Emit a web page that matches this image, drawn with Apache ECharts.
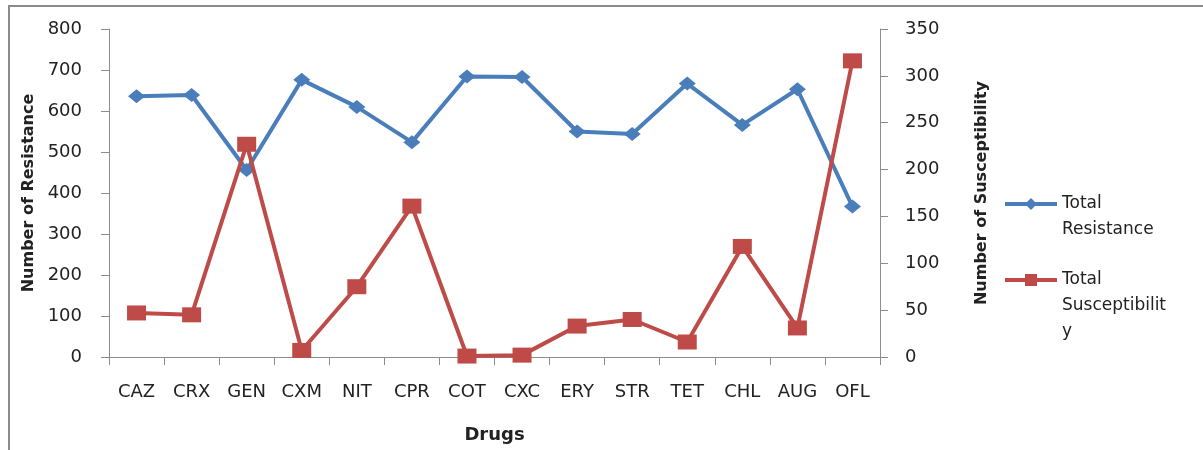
<!DOCTYPE html>
<html>
<head>
<meta charset="utf-8">
<script src="https://cdn.jsdelivr.net/npm/echarts@6/dist/echarts.min.js"></script>
<style>
  html, body { margin: 0; padding: 0; background: #fff; }
  #chart { width: 1203px; height: 450px; }
</style>
</head>
<body>
<div id="chart"></div>
<script>
// Antibiotic panel
const drugs = ['CAZ', 'CRX', 'GEN', 'CXM', 'NIT', 'CPR', 'COT', 'CXC', 'ERY', 'STR', 'TET', 'CHL', 'AUG', 'OFL'];
// Left axis series
const totalResistance = [636, 639, 456, 676, 610, 524, 684, 683, 550, 544, 667, 566, 653, 367];
// Right axis series
const totalSusceptibility = [47, 45, 227, 7, 75, 161, 1, 2, 33, 40, 16, 118, 31, 316];

const FONT = '"DejaVu Sans", "Noto Sans", sans-serif';
const BLUE = '#4A7EBB';
const RED = '#BE4B48';
const AXIS = '#8c8c8c';
const TEXT = '#222';

const chart = echarts.init(document.getElementById('chart'), null, { renderer: 'canvas' });

// Legend entries: leading blank lines keep the first text line level with the icon
const legendBase = {
  orient: 'vertical',
  left: 1003,
  padding: 0,
  itemWidth: 52,
  itemHeight: 15,
  lineStyle: { width: 4 },
  textStyle: { fontFamily: FONT, fontSize: 17, color: TEXT, lineHeight: 26 }
};

chart.setOption({
  animation: false,
  graphic: [{
    type: 'rect',
    shape: { x: 9, y: 6, width: 1400, height: 600 },
    style: { fill: 'none', stroke: '#8a8a8a', lineWidth: 2 },
    silent: true
  }],
  grid: { left: 109, right: 323, top: 29, bottom: 93 },
  legend: [
    Object.assign({}, legendBase, {
      top: 165,
      data: ['Total Resistance'],
      formatter: () => ' \nTotal\nResistance'
    }),
    Object.assign({}, legendBase, {
      top: 215,
      data: ['Total Susceptibility'],
      formatter: () => ' \n \nTotal\nSusceptibilit\ny'
    })
  ],
  xAxis: {
    type: 'category',
    data: drugs,
    boundaryGap: true,
    name: 'Drugs',
    nameLocation: 'middle',
    nameGap: 69,
    nameTextStyle: { fontFamily: FONT, fontSize: 18, fontWeight: 'bold', color: TEXT },
    axisLine: { lineStyle: { color: AXIS, width: 1 } },
    axisTick: { show: true, length: 8, alignWithLabel: false, lineStyle: { color: AXIS } },
    axisLabel: { fontFamily: FONT, fontSize: 18, color: TEXT, margin: 26 },
    splitLine: { show: false }
  },
  yAxis: [{
    type: 'value',
    min: 0, max: 800, interval: 100,
    position: 'left',
    name: 'Number of Resistance',
    nameLocation: 'middle',
    nameRotate: 90,
    nameGap: 66,
    nameTextStyle: { fontFamily: FONT, fontSize: 16, fontWeight: 'bold', color: TEXT },
    axisLine: { show: true, lineStyle: { color: AXIS, width: 1 } },
    axisTick: { show: true, length: 8, lineStyle: { color: AXIS } },
    axisLabel: { fontFamily: FONT, fontSize: 18, color: TEXT, margin: 27 },
    splitLine: { show: false }
  }, {
    type: 'value',
    min: 0, max: 350, interval: 50,
    position: 'right',
    name: 'Number of Susceptibility',
    nameLocation: 'middle',
    nameRotate: 90,
    nameGap: 94,
    nameTextStyle: { fontFamily: FONT, fontSize: 16, fontWeight: 'bold', color: TEXT },
    axisLine: { show: true, lineStyle: { color: AXIS, width: 1 } },
    axisTick: { show: true, length: 8, lineStyle: { color: AXIS } },
    axisLabel: { fontFamily: FONT, fontSize: 18, color: TEXT, margin: 25 },
    splitLine: { show: false }
  }],
  series: [{
    name: 'Total Resistance',
    type: 'line',
    yAxisIndex: 0,
    data: totalResistance,
    symbol: 'diamond',
    symbolSize: [17, 14],
    lineStyle: { color: BLUE, width: 4 },
    itemStyle: { color: BLUE },
    z: 2
  }, {
    name: 'Total Susceptibility',
    type: 'line',
    yAxisIndex: 1,
    data: totalSusceptibility,
    symbol: 'rect',
    symbolSize: [19, 15],
    lineStyle: { color: RED, width: 4 },
    itemStyle: { color: RED },
    z: 3
  }]
});
</script>
</body>
</html>
